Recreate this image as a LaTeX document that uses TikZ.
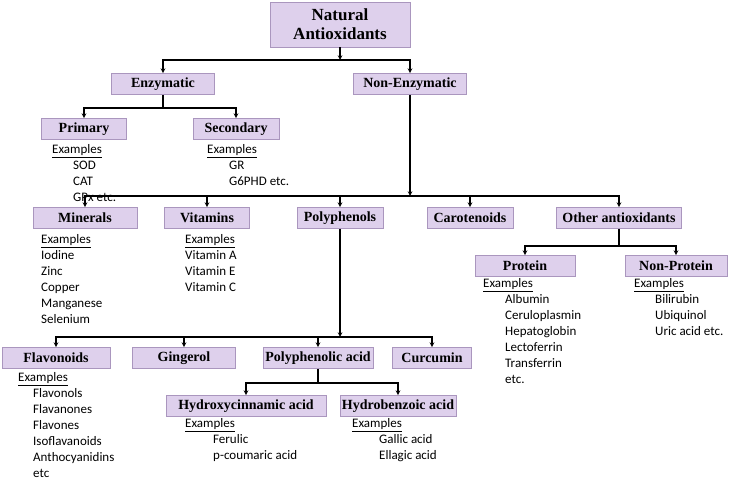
\documentclass[tikz,border=0pt]{standalone}
\usepackage{fontspec}
\setmainfont{Liberation Serif}
\newfontfamily\exfont{Carlito}
\definecolor{boxfill}{RGB}{222,208,236}
\definecolor{boxline}{RGB}{170,150,190}
\usetikzlibrary{positioning}
\tikzset{
  x=1pt, y=-1pt,
  box/.style = {
    rectangle, draw=boxline, fill=boxfill, line width=0.8pt,
    font=\fontsize{14}{15}\selectfont\bfseries,
    inner sep=2pt, minimum height=21pt
  },
  ex/.style = {
    anchor=north west, align=left, inner sep=0pt,
    font=\exfont\fontsize{13}{16}\selectfont
  },
  line/.style = {draw, line width=1.1pt},
  >=stealth
}
\begin{document}
\begin{tikzpicture}
  \useasboundingbox (0,0) rectangle (730,484);

  %% nodes
  \node[box, minimum width=140pt, minimum height=45pt, align=center,
        font=\fontsize{17}{19}\selectfont\bfseries] (NA) at (340,24.5) {Natural\\Antioxidants};
  \node[box, minimum width=103pt] (EN)  at (163,84)  {Enzymatic};
  \node[box, minimum width=113pt] (NEN) at (410,84)  {Non-Enzymatic};
  \node[box, minimum width=85pt]  (PR)  at (84,129)  {Primary};
  \node[box, minimum width=86pt]  (SE)  at (236,129) {Secondary};

  \node[box, minimum width=104pt] (MI) at (85,218)  {Minerals};
  \node[box, minimum width=85pt]  (VI) at (207,218) {Vitamins};
  \node[box, minimum width=86pt]  (PP) at (340,218) {Polyphenols};
  \node[box, minimum width=86pt]  (CA) at (470,218) {Carotenoids};
  \node[box, minimum width=125pt] (OA) at (619,218) {Other antioxidants};

  \node[box, minimum width=100pt] (PT)  at (525,266) {Protein};
  \node[box, minimum width=102pt] (NPT) at (676,266) {Non-Protein};

  \node[box, minimum width=108pt] (FL) at (56,358)  {Flavonoids};
  \node[box, minimum width=103pt] (GI) at (184,358) {Gingerol};
  \node[box, minimum width=110pt] (PA) at (318,358) {Polyphenolic acid};
  \node[box, minimum width=79pt]  (CU) at (432,358) {Curcumin};

  \node[box, minimum width=160pt] (HC) at (246,406) {Hydroxycinnamic acid};
  \node[box, minimum width=115pt] (HB) at (398,406) {Hydrobenzoic acid};

  %% examples
  \node[ex] (PRex) at (52,144)  {\underline{Examples}\\\hspace{21pt}SOD\\\hspace{21pt}CAT\\\hspace{21pt}GPx etc.};
  \node[ex] (SEex) at (207,144) {\underline{Examples}\\\hspace{22pt}GR\\\hspace{22pt}G6PHD etc.};
  \node[ex] (MIex) at (41,234)  {\underline{Examples}\\Iodine\\Zinc\\Copper\\Manganese\\Selenium};
  \node[ex] (VIex) at (185,234) {\underline{Examples}\\Vitamin A\\Vitamin E\\Vitamin C};
  \node[ex] (PTex) at (483,278) {\underline{Examples}\\\hspace{22pt}Albumin\\\hspace{22pt}Ceruloplasmin\\\hspace{22pt}Hepatoglobin\\\hspace{22pt}Lectoferrin\\\hspace{22pt}Transferrin\\\hspace{22pt}etc.};
  \node[ex] (NPTex) at (634,278) {\underline{Examples}\\\hspace{21pt}Bilirubin\\\hspace{21pt}Ubiquinol\\\hspace{21pt}Uric acid etc.};
  \node[ex] (FLex) at (18,372)  {\underline{Examples}\\\hspace{15pt}Flavonols\\\hspace{15pt}Flavanones\\\hspace{15pt}Flavones\\\hspace{15pt}Isoflavanoids\\\hspace{15pt}Anthocyanidins\\\hspace{15pt}etc};
  \node[ex] (HCex) at (185,418) {\underline{Examples}\\\hspace{28pt}Ferulic\\\hspace{28pt}p-coumaric acid};
  \node[ex] (HBex) at (352,418) {\underline{Examples}\\\hspace{27pt}Gallic acid\\\hspace{27pt}Ellagic acid};

  %% bus points
  \coordinate (b1) at (340,60);
  \coordinate (b2) at (163,108);
  \coordinate (b3) at (410,196);
  \coordinate (b4) at (619,246);
  \coordinate (b5) at (340,337);
  \coordinate (b6) at (318,383);

  %% arrows
  \draw[line,->] (NA) -- (b1);
  \draw[line,->] (b1) -| (EN);
  \draw[line,->] (b1) -| (NEN);
  \draw[line] (EN) -- (b2);
  \draw[line,->] (b2) -| (PR);
  \draw[line,->] (b2) -| (SE);

  \draw[line,->] (NEN) -- (b3);
  \foreach \n in {MI,VI,PP,CA,OA}
    \draw[line,->] (b3) -| (\n);

  \draw[line] (OA) -- (b4);
  \draw[line,->] (b4) -| (PT);
  \draw[line,->] (b4) -| (NPT);

  \draw[line,->] (PP) -- (b5);
  \foreach \n in {FL,GI,PA,CU}
    \draw[line,->] (b5) -| (\n);

  \draw[line] (PA) -- (b6);
  \draw[line,->] (b6) -| (HC);
  \draw[line,->] (b6) -| (HB);
\end{tikzpicture}
\end{document}
